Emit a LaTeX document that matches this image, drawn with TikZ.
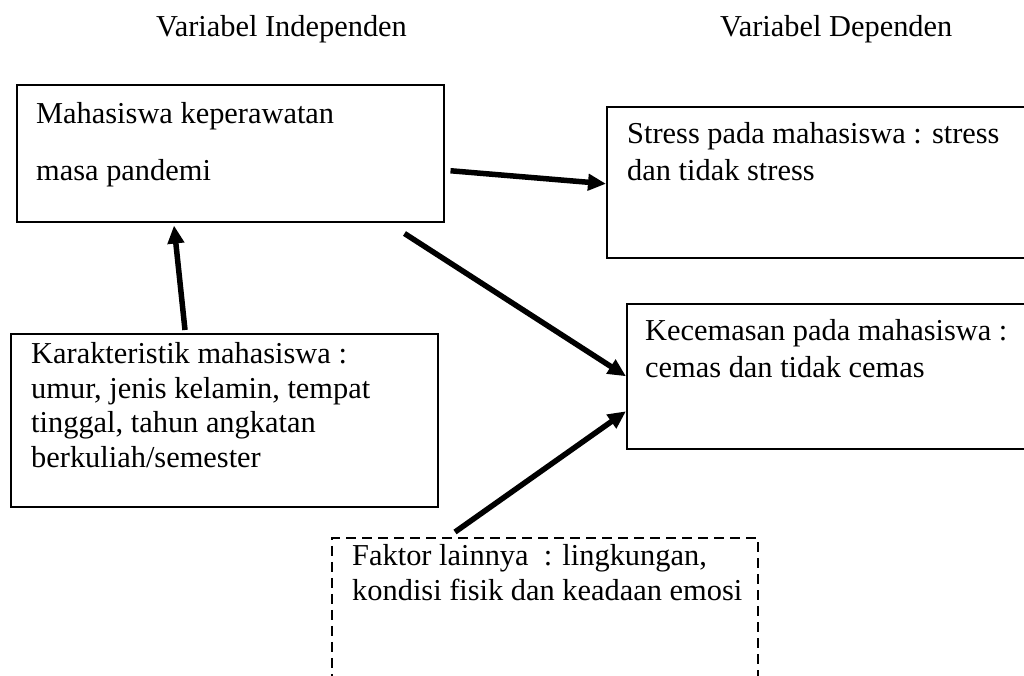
\documentclass[tikz,border=0pt]{standalone}
\usepackage{fontspec}
\setmainfont{Liberation Serif}
\usetikzlibrary{arrows.meta,calc}
\begin{document}
\begin{tikzpicture}[x=1pt,y=-1pt,
  box/.style={draw, line width=1.5pt, rectangle, inner sep=0pt, anchor=north west},
  dbox/.style={box, dash pattern=on 10pt off 6pt},
  txt/.style={anchor=base west, inner sep=0pt, align=left, font=\fontsize{30.4}{34.5}\selectfont},
  arr/.style={line width=5.5pt, -{Triangle[length=18pt,width=16pt]}}]
\useasboundingbox (0,0) rectangle (1024,675);
\clip (0,0) rectangle (1024,675);

% headers
\node[txt] (h1) at (156,36) {Variabel Independen};
\node[txt] (h2) at (720,36) {Variabel Dependen};

% boxes
\node[box, minimum width=427pt, minimum height=137pt] (ind) at (16,84) {};
\node[box, minimum width=440pt, minimum height=151pt] (str) at (606,106) {};
\node[box, minimum width=420pt, minimum height=145pt] (cem) at (626,303) {};
\node[box, minimum width=427pt, minimum height=173pt] (kar) at (10,333) {};
\node[dbox, minimum width=426pt, minimum height=180pt] (fak) at (331,537) {};

% texts (anchored at the baseline of their last line)
\node[txt, font=\fontsize{30.4}{57}\selectfont] (t1) at (36,180) {Mahasiswa keperawatan\\masa pandemi};
\node[txt, font=\fontsize{30.4}{36.5}\selectfont] (t2) at (627,180) {Stress pada mahasiswa : stress\\dan tidak stress};
\node[txt, font=\fontsize{30.4}{36.5}\selectfont] (t3) at (645,377) {Kecemasan pada mahasiswa :\\cemas dan tidak cemas};
\node[txt] (t4) at (31,467) {Karakteristik mahasiswa :\\umur, jenis kelamin, tempat\\tinggal, tahun angkatan\\berkuliah/semester};
\node[txt] (t5) at (352,600) {Faktor lainnya~ : lingkungan,\\kondisi fisik dan keadaan emosi};

% arrows
\coordinate (a1s) at ($(ind.east)+(6,17.5)$);
\coordinate (a1e) at ($(str.west)+(0,1.5)$);
\draw[arr] (a1s) -- (a1e);
\coordinate (a2s) at ($(ind.south east)+(-40,11)$);
\draw[arr] (a2s) -- (cem.west);
\coordinate (a3s) at ($(kar.north west)+(175,-3)$);
\coordinate (a3e) at ($(ind.south west)+(158,3)$);
\draw[arr] (a3s) -- (a3e);
\coordinate (a4s) at ($(fak.north west)+(124,-5)$);
\coordinate (a4e) at ($(cem.west)+(0,35)$);
\draw[arr] (a4s) -- (a4e);
\end{tikzpicture}
\end{document}
